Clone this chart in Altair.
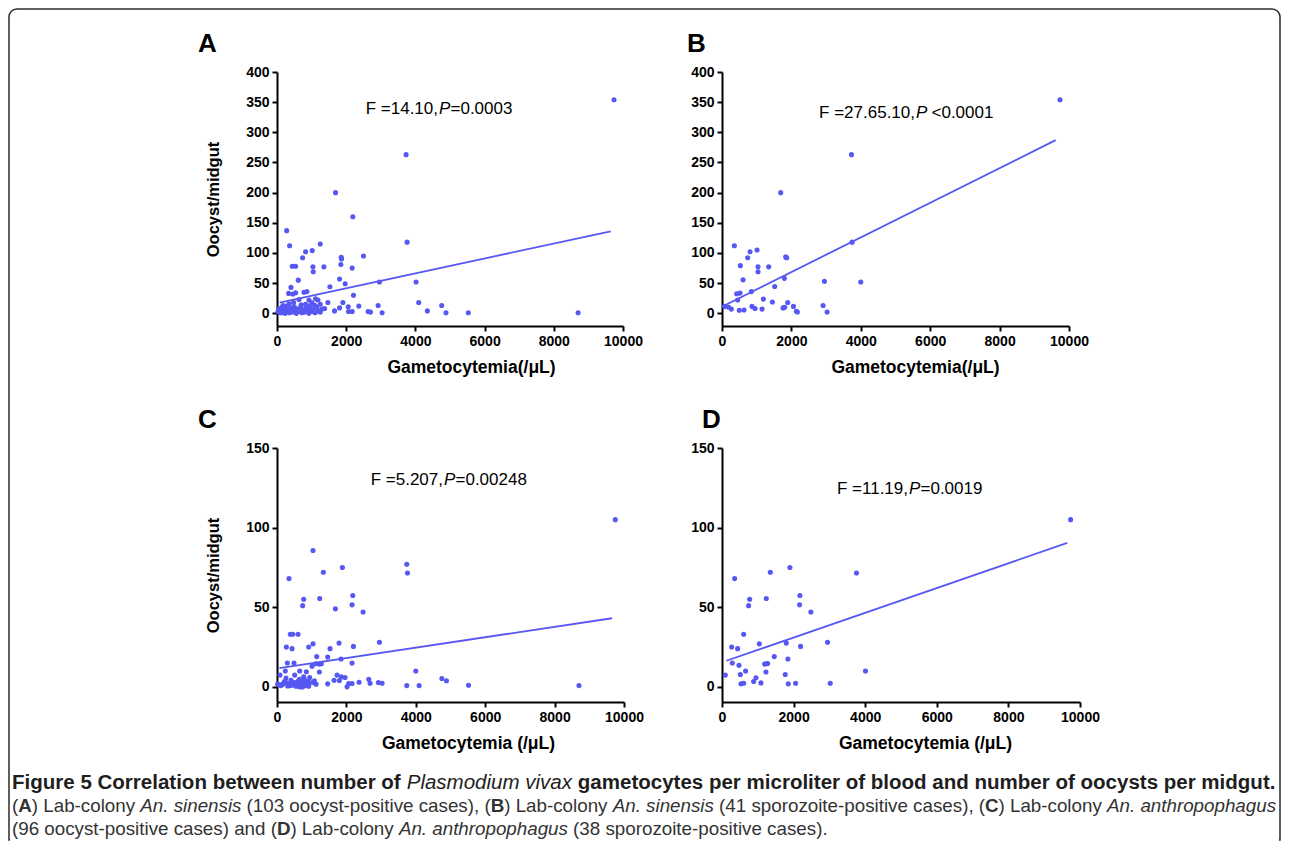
import altair as alt
import pandas as pd

BLUE = "#5757f2"
FONT = "Liberation Sans"
CAPFONT = "Liberation Sans"

# ---------------- data ----------------
# Panel A: 103 oocyst-positive cases (An. sinensis)
a_x = [9740, 3731, 1692, 2192, 279, 3760, 365, 1250, 827, 1019, 740, 1856, 1865, 2500,
       442, 538, 1038, 1356, 1846, 2173, 1048, 615, 1808, 1971, 2961, 4019, 1529, 404,
       337, 462, 538, 779, 865, 2211, 635, 923, 1115, 1183, 1471, 1904, 4096, 173, 481,
       827, 1038, 1250, 2365, 2923, 4760, 1808, 2058, 1375, 1663, 2067, 2173, 2634, 2702,
       3038, 4346, 4884, 5529, 8702,
       30, 60, 90, 120, 150, 180, 210, 240, 270, 300, 330, 360, 400, 430, 460, 500, 530,
       560, 600, 640, 680, 720, 760, 800, 840, 880, 920, 960, 1000, 1050, 1100, 1150,
       1200, 1250, 1300, 700, 900, 1100, 350, 150, 1000]
a_y = [354, 263, 200, 160, 137, 118, 112, 115, 102, 104, 92, 93, 90, 95,
       78, 78, 77, 77, 81, 75, 69, 55, 57, 49, 52, 52, 44, 43,
       33, 32, 34, 35, 36, 30, 23, 22, 24, 22, 18, 18, 18, 13, 18,
       15, 15, 15, 12, 13, 13, 9, 11, 8, 4, 3, 3, 3, 2,
       1, 4, 1, 1, 1,
       3, 8, 1, 5, 10, 2, 6, 0, 12, 3, 7, 1, 9, 4, 2, 11, 5,
       0, 7, 3, 10, 1, 6, 2, 8, 4, 0, 9, 3, 6, 1, 10,
       4, 2, 7, 14, 12, 13, 16, 1, 18]
a_line_x = [77, 9644]
a_line_y = [17.6, 136]

# Panel B: 41 sporozoite-positive cases (An. sinensis)
b_x = [9740, 3731, 1692, 3750, 356, 808, 1010, 740, 1836, 1865, 529, 1038, 1346, 1038,
       606, 1798, 2952, 4000, 1519, 846, 423, 519, 452, 1192, 1452, 1894, 77, 192, 269,
       500, 635, 865, 952, 1154, 1760, 1808, 2058, 2144, 2173, 2913, 3029]
b_y = [354, 263, 200, 118, 112, 102, 105, 92, 93.5, 92, 79, 77, 77, 69,
       55.5, 58, 53, 52, 44.5, 36, 32.5, 33.5, 22, 23.6, 18.7, 18, 11.5, 10, 7,
       5, 5.5, 11.5, 8, 7, 9, 10, 11.5, 3.3, 2.2, 13, 2.2]
b_line_x = [0, 9615]
b_line_y = [11, 287]

# Panel C: 96 oocyst-positive cases (An. anthropophagus)
c_x = [9750, 1038, 346, 3740, 3760, 1336, 1885, 769, 740, 1231, 1683, 2183, 2163, 2481,
       385, 452, 606, 269, 433, 913, 1038, 1529, 1788, 2202, 2952, 1144, 1461, 1846,
       298, 490, 1010, 1125, 1221, 1279, 2163, 240, 654, 846, 1221, 4000, 87, 510, 769,
       942, 1731, 1856, 1962, 1644, 2644, 4750, 4884, 260, 644, 1077, 1461, 2019, 2067,
       2163, 2365, 2683, 2923, 3029, 3740, 4096, 5519, 8702, 1798,
       67, 163, 356, 452, 548, 644, 740, 837, 933, 404, 596, 692, 788, 885, 19, 308,
       212, 500, 1029, 1125, 721, 817, 115, 375, 567, 663, 913, 260, 760]
c_y = [105, 85.6, 68, 77, 71.5, 72, 75, 55, 51, 55.5, 49, 57.4, 51.5, 47,
       33, 33, 33, 25, 24, 25, 27, 24, 27.5, 25.4, 28, 19, 18.7, 17.5,
       15, 15, 13, 14.5, 14.3, 14.5, 15, 10, 10, 9.5, 9.3, 10, 7.4, 7.4, 6.3,
       5.9, 7.4, 6.3, 5.9, 4.2, 4.8, 5.3, 3.8, 5.5, 4.8, 3.8, 1.9, 0, 2.1,
       2.1, 2.9, 2.3, 2.7, 2.3, 0.8, 0.8, 1, 0.8, 4,
       1.3, 1.7, 2.1, 1.1, 0.4, 0, 0, 1.3, 2.7, 4.2, 3.4, 2.1, 4.8, 3.4, 1.7, 0.6,
       3.4, 2.7, 2.7, 1.7, 0, 0.8, 0.8, 0.8, 1.7, 1.3, 0.4, 2.7, 3.4]
c_line_x = [67, 9654]
c_line_y = [11.8, 43.1]

# Panel D: 38 sporozoite-positive cases (An. anthropophagus)
d_x = [9737, 353, 1349, 1897, 3757, 772, 744, 1237, 2176, 2167, 2483, 605, 270, 437,
       1042, 1795, 2195, 2948, 1460, 1841, 288, 474, 1190, 1237, 1274, 93, 512, 660,
       1228, 4008, 1767, 884, 949, 1088, 530, 605, 1851, 2055, 3023]
d_y = [105, 68, 72, 75, 71.5, 55, 51, 55.5, 57.4, 51.5, 47, 33, 25, 24,
       27, 27.5, 25.4, 28, 19, 17.5, 15, 13.5, 14.3, 14.5, 14.7, 7.4, 7.8, 10,
       9.3, 10, 7.8, 3.4, 5.7, 2.5, 1.9, 2.3, 1.9, 2.3, 2.3]
d_line_x = [121, 9644]
d_line_y = [16.4, 90.4]

x_ticks = [0, 2000, 4000, 6000, 8000, 10000]
y_ticks_ab = [0, 50, 100, 150, 200, 250, 300, 350, 400]
y_ticks_cd = [0, 50, 100, 150]

stats = {
    "A": ("F =14.10,", "P", "=0.0003"),
    "B": ("F =27.65.10,", "P", "<0.0001"),
    "C": ("F =5.207,", "P", "=0.00248"),
    "D": ("F =11.19,", "P", "=0.0019"),
}

caption_lines = [
    [("Figure 5 Correlation between number of ", "b"), ("Plasmodium vivax", "i"),
     (" gametocytes per microliter of blood and number of oocysts per midgut.", "b")],
    [("(", "r"), ("A", "b"), (") Lab-colony ", "r"), ("An. sinensis", "i"),
     (" (103 oocyst-positive cases), (", "r"), ("B", "b"), (") Lab-colony ", "r"),
     ("An. sinensis", "i"), (" (41 sporozoite-positive cases), (", "r"), ("C", "b"),
     (") Lab-colony ", "r"), ("An. anthropophagus", "i")],
    [("(96 oocyst-positive cases) and (", "r"), ("D", "b"), (") Lab-colony ", "r"),
     ("An. anthropophagus", "i"), (" (38 sporozoite-positive cases).", "r")],
]

# ---------------- helpers ----------------
ONE = pd.DataFrame({"k": [0]})

# Arial / Liberation Sans advance widths (1/1000 em)
REG_W = {' ': 278, '(': 333, ')': 333, ',': 278, '-': 333, '.': 278,
         'A': 667, 'B': 667, 'C': 722, 'D': 722, 'F': 611, 'L': 556, 'P': 667,
         'a': 556, 'b': 556, 'c': 500, 'd': 556, 'e': 556, 'f': 278, 'g': 556,
         'h': 556, 'i': 222, 'j': 222, 'k': 500, 'l': 222, 'm': 833, 'n': 556,
         'o': 556, 'p': 556, 'q': 556, 'r': 333, 's': 500, 't': 278, 'u': 556,
         'v': 500, 'w': 722, 'x': 500, 'y': 500, 'z': 500}
BOLD_W = {' ': 278, '(': 333, ')': 333, ',': 278, '-': 333, '.': 278,
          'A': 722, 'B': 722, 'C': 722, 'D': 722, 'F': 611, 'L': 611, 'P': 667,
          'a': 556, 'b': 611, 'c': 556, 'd': 611, 'e': 556, 'f': 333, 'g': 611,
          'h': 611, 'i': 278, 'j': 278, 'k': 556, 'l': 278, 'm': 889, 'n': 611,
          'o': 611, 'p': 611, 'q': 611, 'r': 389, 's': 556, 't': 333, 'u': 611,
          'v': 556, 'w': 778, 'x': 556, 'y': 556, 'z': 500}


def em_width(text, style):
    table = BOLD_W if style == "b" else REG_W
    return sum(table.get(ch, 556) for ch in text) / 1000.0


def txt(text, x, y, size, weight="normal", style="normal", align="left",
        baseline="middle", color="black", font=FONT):
    return alt.Chart(ONE).mark_text(
        text=text, fontSize=size, fontWeight=weight, fontStyle=style, align=align,
        baseline=baseline, color=color, font=font
    ).encode(x=alt.value(x), y=alt.value(y))


AXCOMMON = dict(labelFont=FONT, labelFontWeight="bold", labelFontSize=14, labelColor="black",
                domainColor="black", domainWidth=2, tickColor="black", tickWidth=2,
                tickSize=5, grid=False, titleFont=FONT, titleFontWeight="bold",
                titleColor="black", labelPadding=3, labelOverlap=False)

H = 254


def panel(px, py, lx, ly, width, ydom, yticks, letter, letter_dx, fx, fy, pgap,
          ytitle, xtitle, xtitle_x):
    xscale = alt.Scale(domain=[0, 10000], nice=False, zero=False)
    yscale = alt.Scale(domain=ydom, nice=False, zero=False)
    xaxis = alt.Axis(values=x_ticks, format="d", labelFlush=False, title=xtitle,
                     titleX=xtitle_x, titleY=41, titleAlign="center",
                     titleBaseline="middle", titleFontSize=17.5, **AXCOMMON)
    if ytitle:
        yaxis = alt.Axis(values=yticks, format="d", title=ytitle, titleX=-64,
                         titleY=H / 2, titleAngle=270, titleAlign="center",
                         titleBaseline="middle", titleFontSize=16.5, **AXCOMMON)
    else:
        yaxis = alt.Axis(values=yticks, format="d", title=None, **AXCOMMON)

    pts = alt.Chart(pd.DataFrame({"x": px, "y": py})).mark_circle(
        size=26, color=BLUE, opacity=1
    ).encode(x=alt.X("x:Q", scale=xscale, axis=xaxis),
             y=alt.Y("y:Q", scale=yscale, axis=yaxis))
    line = alt.Chart(pd.DataFrame({"x": lx, "y": ly})).mark_line(
        color=BLUE, strokeWidth=1.8
    ).encode(x=alt.X("x:Q", scale=xscale, axis=xaxis),
             y=alt.Y("y:Q", scale=yscale, axis=yaxis))

    s1, s2, s3 = stats[letter]
    layers = [
        pts, line,
        txt(letter, letter_dx, -20, 26, weight="bold", baseline="alphabetic"),
        txt(s1, fx, fy, 17, align="right"),
        txt(s2, fx + 1, fy, 17, style="italic"),
        txt(s3, fx + 12.5 + pgap, fy, 17),
    ]
    return alt.layer(*layers).properties(width=width, height=H)


A = panel(a_x, a_y, a_line_x, a_line_y, 346, [-21, 400], y_ticks_ab, "A", -79, 161, 37, 0,
          "Oocyst/midgut", "Gametocytemia(/μL)", 194)
B = panel(b_x, b_y, b_line_x, b_line_y, 347, [-21, 400], y_ticks_ab, "B", -35, 193, 41, 4,
          None, "Gametocytemia(/μL)", 193)
C = panel(c_x, c_y, c_line_x, c_line_y, 347, [-9.5, 150], y_ticks_cd, "C", -79, 166, 32, 0,
          "Oocyst/midgut", "Gametocytemia (/μL)", 191)
D = panel(d_x, d_y, d_line_x, d_line_y, 358, [-9.5, 150], y_ticks_cd, "D", -20, 186, 41, 0,
          None, "Gametocytemia (/μL)", 203)

# ---------------- caption (with figure frame) ----------------
LINE_W = 1264.0
size1 = LINE_W / sum(em_width(t, s) for t, s in caption_lines[0])
size2 = LINE_W / sum(em_width(t, s) for t, s in caption_lines[1])
sizes = [size1, size2, size2]
ys = [-41, -18, 5]
colors = ["#1e1e1e", "#333333", "#333333"]

cap_layers = [
    alt.Chart(ONE).mark_rect(fillOpacity=0, stroke="#2b2b2b", strokeWidth=1.5,
                             cornerRadiusTopLeft=8, cornerRadiusTopRight=8).encode(
        x=alt.value(-268), x2=alt.value(1003), y=alt.value(-815), y2=alt.value(16)),
    alt.Chart(ONE).mark_rule(color="white", strokeWidth=3).encode(
        x=alt.value(-267), x2=alt.value(1002), y=alt.value(16)),
]
for segs, fs, yy, col in zip(caption_lines, sizes, ys, colors):
    x = -265.0
    for text, style in segs:
        lead = len(text) - len(text.lstrip(" "))
        xd = x + em_width(" " * lead, style) * fs
        body = text.strip(" ")
        cap_layers.append(txt(body, round(xd, 1), yy, round(fs, 2),
                              weight="bold" if style == "b" else "normal",
                              style="italic" if style == "i" else "normal",
                              color=col, font=CAPFONT))
        x += em_width(text, style) * fs

CAP = alt.layer(*cap_layers).properties(width=300, height=10)

chart = alt.concat(
    A, B, C, D, CAP, columns=2,
    spacing={"row": 122, "column": 98}, bounds="flush", align="each"
).properties(padding=0, background="white").configure_view(strokeWidth=0)

chart.save("out.html", embed_options={"renderer": "svg", "actions": False})
